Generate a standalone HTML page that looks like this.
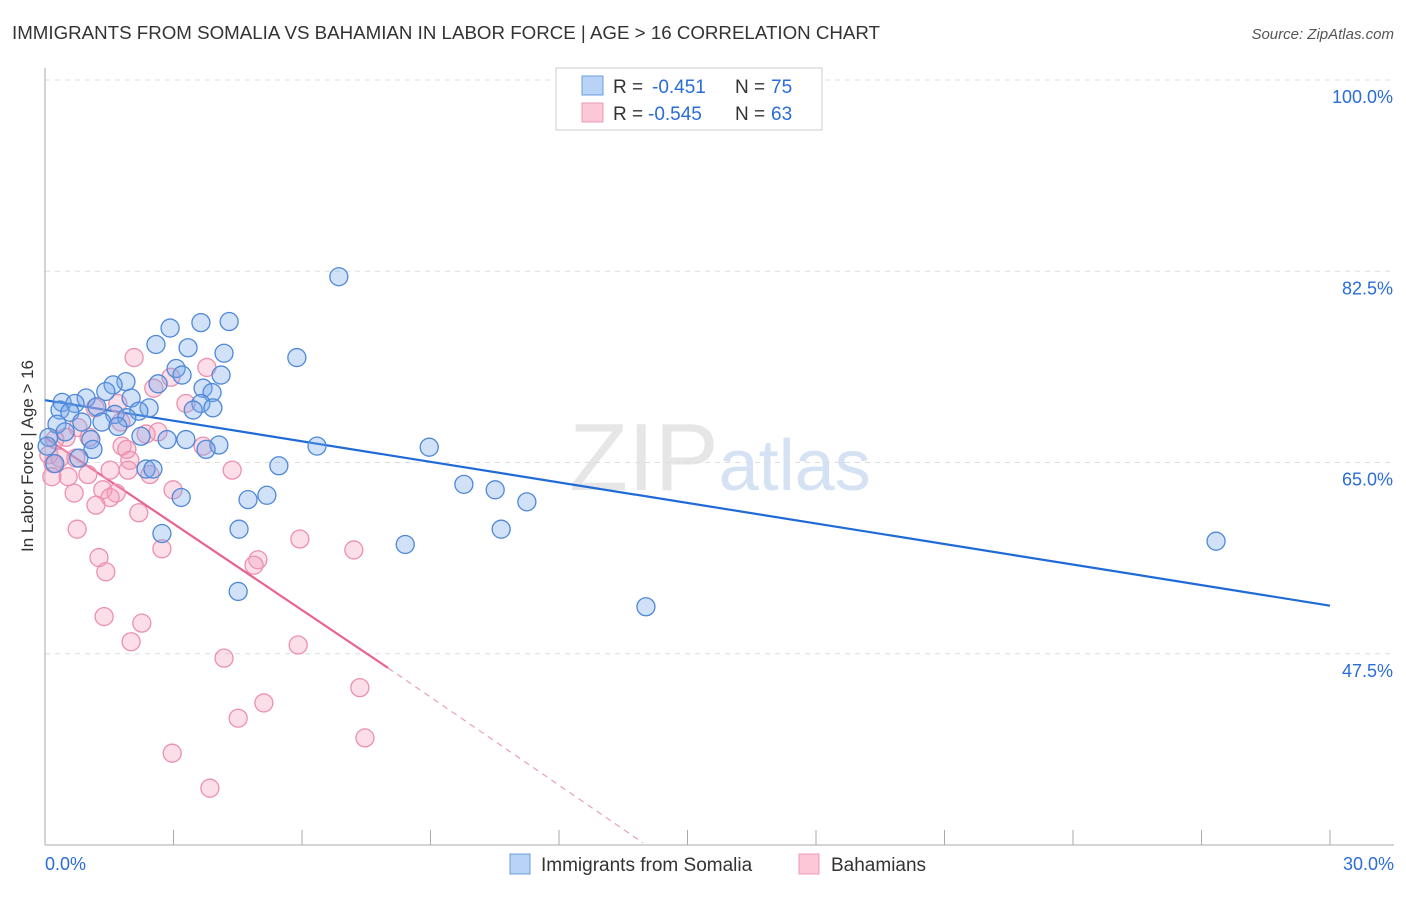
<!DOCTYPE html>
<html><head><meta charset="utf-8"><style>
body{margin:0;background:#fff;font-family:"Liberation Sans",sans-serif}
svg text{font-family:"Liberation Sans",sans-serif}
</style></head><body>
<svg id="chart" width="1406" height="892" xmlns="http://www.w3.org/2000/svg">
<text x="12" y="39" font-size="18" fill="#333" textLength="868" lengthAdjust="spacingAndGlyphs">IMMIGRANTS FROM SOMALIA VS BAHAMIAN IN LABOR FORCE | AGE &gt; 16 CORRELATION CHART</text>
<text x="1394" y="39" font-size="15" fill="#555" text-anchor="end" font-style="italic">Source: ZipAtlas.com</text>
<text x="720" y="490" font-size="96" fill="#e6e6e6" text-anchor="middle" font-family="Liberation Serif">ZIP<tspan fill="#d4e2f3" font-family="Liberation Sans" font-size="72">atlas</tspan></text>
<g id="grid"></g>
<g id="axes"></g>
<text transform="translate(33,456) rotate(-90)" font-size="17" fill="#333" text-anchor="middle">In Labor Force | Age &gt; 16</text>
<g id="trend"></g>
<g id="points"></g>
<g>
<rect x="556" y="68" width="266" height="62" fill="#fff" stroke="#ccc"/>
<rect x="582" y="76" width="21" height="19" fill="#b8d3f5" stroke="#6a9ee0"/>
<rect x="582" y="103" width="21" height="19" fill="#fcc8d8" stroke="#ee99b4"/>
<text x="613" y="93" font-size="19" fill="#333">R = </text>
<text x="652" y="93" font-size="19" fill="#2a6dd6">-0.451</text>
<text x="735" y="93" font-size="19" fill="#333">N = </text>
<text x="771" y="93" font-size="19" fill="#2a6dd6">75</text>
<text x="613" y="120" font-size="19" fill="#333">R = </text>
<text x="648" y="120" font-size="19" fill="#2a6dd6">-0.545</text>
<text x="735" y="120" font-size="19" fill="#333">N = </text>
<text x="771" y="120" font-size="19" fill="#2a6dd6">63</text>
</g>
<g>
<rect x="510" y="854" width="20" height="20" fill="#b8d3f5" stroke="#6a9ee0"/>
<text x="541" y="871" font-size="19" fill="#333">Immigrants from Somalia</text>
<rect x="799" y="854" width="20" height="20" fill="#fcc8d8" stroke="#ee99b4"/>
<text x="831" y="871" font-size="19" fill="#333">Bahamians</text>
</g>
</svg>
<script>
const yTicks=[47.5,65.0,82.5,100.0];
const xTickLabels=["0.0%","30.0%"];
const blueX=[6.86,2.92,3.64,4.30,2.59,3.34,4.18,5.88,3.06,4.11,3.20,2.64,1.89,1.59,3.69,3.90,1.42,0.96,2.01,0.40,0.70,3.64,2.43,1.21,3.92,3.46,2.19,0.35,0.58,1.63,1.91,0.86,1.33,0.28,1.70,0.47,2.24,2.85,3.29,4.06,0.09,1.07,3.76,6.35,8.97,1.12,0.79,0.23,5.46,2.36,2.52,9.78,10.51,11.25,3.18,5.18,4.74,4.53,10.65,2.73,8.41,27.34,4.51,14.03,0.05];
const blueY=[82.0,77.3,77.8,77.9,75.8,75.5,75.0,74.6,73.6,73.0,73.0,72.2,72.4,72.1,71.8,71.4,71.5,70.9,70.9,70.5,70.4,70.4,70.0,70.1,70.0,69.8,69.7,69.8,69.6,69.4,69.1,68.7,68.7,68.5,68.3,67.8,67.4,67.1,67.1,66.6,67.3,67.1,66.2,66.5,66.4,66.2,65.4,64.9,64.7,64.4,64.4,63.0,62.5,61.4,61.8,62.0,61.6,58.9,58.9,58.5,57.5,57.8,53.2,51.8,66.5];
const pinkX=[2.08,3.78,2.94,2.54,3.29,1.70,1.17,1.77,0.77,2.64,2.36,1.03,0.49,0.23,3.69,1.80,1.91,0.09,0.35,0.72,1.98,0.19,1.52,1.94,4.37,2.45,1.00,0.54,0.16,2.99,0.68,1.35,1.66,1.52,1.19,2.19,0.75,5.95,2.73,7.21,1.26,4.97,4.88,1.42,1.38,2.26,2.01,5.91,4.18,7.35,5.11,4.51,7.47,2.97,3.85];
const pinkY=[74.6,73.7,72.8,71.8,70.4,70.4,70.0,68.7,68.2,67.8,67.6,67.3,67.3,67.1,66.5,66.5,66.2,65.7,65.4,65.4,65.2,64.9,64.3,64.3,64.3,63.9,63.9,63.7,63.7,62.5,62.2,62.5,62.2,61.8,61.1,60.4,58.9,58.0,57.1,57.0,56.3,56.1,55.6,55.0,50.9,50.3,48.6,48.3,47.1,44.4,43.0,41.6,39.8,38.4,35.2];
const blueTrend=[70.7,51.9];
const pinkTrend=[67.3,46.2,30.2];
const pinkTrendX=[0,8.01,13.96];
const NS="http://www.w3.org/2000/svg";
const sx=v=>45+v*(1285/30);
const sy=v=>80+(100-v)*(765/70);
function mk(t,a,p){const e=document.createElementNS(NS,t);for(const k in a)e.setAttribute(k,a[k]);p.appendChild(e);return e;}
const grid=document.getElementById('grid'),axes=document.getElementById('axes');
yTicks.forEach(v=>{
 const l=mk('line',{x1:45,x2:1394,y1:sy(v),y2:sy(v),stroke:'#ddd','stroke-dasharray':'5,5'},grid);
 
 
 const t=mk('text',{x:1393,y:sy(v)+23,'font-size':18,fill:'#2a6dd6','text-anchor':'end'},axes);
 t.textContent=v.toFixed(1)+'%';
 
 
});
const ya=mk('line',{x1:45,x2:45,y1:68,y2:845,stroke:'#aaa'},axes);


const xa=mk('line',{x1:45,x2:1394,y1:845,y2:845,stroke:'#aaa'},axes);


for(let i=0;i<=10;i++){
 const tk=mk('line',{x1:sx(i*3),x2:sx(i*3),y1:830,y2:845,stroke:'#aaa'},axes);
 
 
}
[[0,'start'],[30,'end']].forEach((d,i)=>{
 const t=mk('text',{x:i?1394:45,y:870,'font-size':18,fill:'#2a6dd6','text-anchor':d[1]},axes);
 t.textContent=xTickLabels[i];
 
 
});
const pts=document.getElementById('points');
pinkX.forEach((x,i)=>{
 const c=mk('circle',{cx:sx(x),cy:sy(pinkY[i]),r:9,fill:'rgba(244,160,188,0.35)',stroke:'#ec90ae','stroke-width':1.3},pts);
 
 
});
blueX.forEach((x,i)=>{
 const c=mk('circle',{cx:sx(x),cy:sy(blueY[i]),r:9,fill:'rgba(120,170,235,0.35)',stroke:'#4f88d8','stroke-width':1.3},pts);
 
 
});
const tr=document.getElementById('trend');
const bl=mk('line',{x1:sx(0),y1:sy(blueTrend[0]),x2:sx(30),y2:sy(blueTrend[1]),stroke:'#1f6ad6','stroke-width':2.2},tr);


const pl=mk('line',{x1:sx(pinkTrendX[0]),y1:sy(pinkTrend[0]),x2:sx(pinkTrendX[1]),y2:sy(pinkTrend[1]),stroke:'#e8648f','stroke-width':2.2},tr);


const pd=mk('line',{x1:sx(pinkTrendX[1]),y1:sy(pinkTrend[1]),x2:sx(pinkTrendX[2]),y2:sy(pinkTrend[2]),stroke:'#e8a0b8','stroke-width':1.2,'stroke-dasharray':'6,5'},tr);


</script>
</body></html>
